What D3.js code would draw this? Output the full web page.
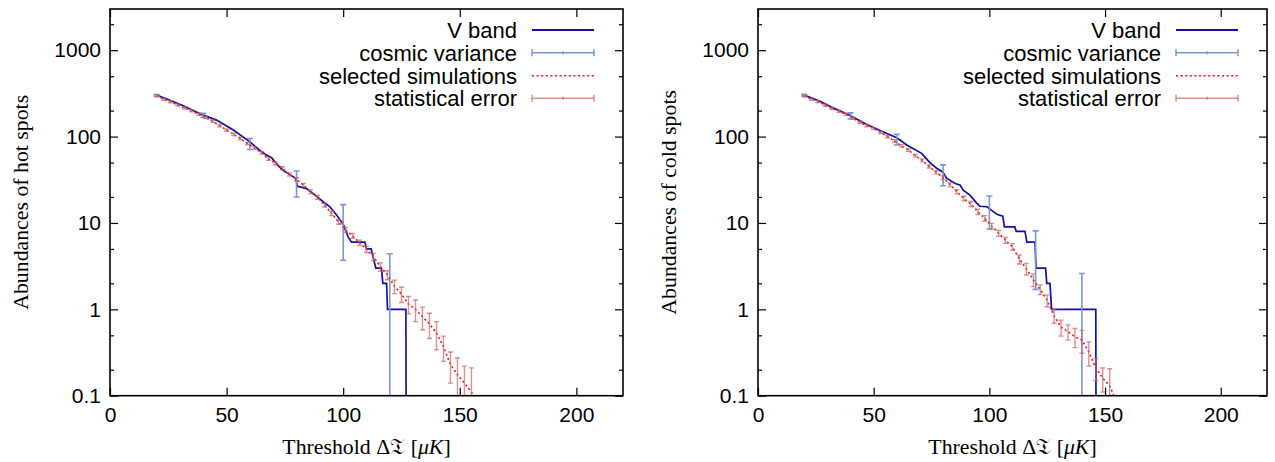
<!DOCTYPE html>
<html>
<head>
<meta charset="utf-8">
<script src="https://cdn.jsdelivr.net/npm/d3@7"></script>
<style>
  body { margin: 0; background: #fff; }
  svg { display: block; }
  .tick text { font-family: "Liberation Sans", Arial, sans-serif; font-size: 21px; fill: #000; }
  .legend text { font-family: "Liberation Sans", Arial, sans-serif; font-size: 22px; fill: #000; }
  .title { font-family: "Liberation Serif", "Times New Roman", serif; font-size: 21.8px; fill: #000; }
</style>
</head>
<body>
<svg id="chart" width="1275" height="462"></svg>
<script>
// ---- data ----
const xTicks = [0, 50, 100, 150, 200];
const yTicks = [0.1, 1, 10, 100, 1000];
const yTickLabels = ["0.1", "1", "10", "100", "1000"];
const yMinorTicks = [0.2, 0.5, 2, 5, 20, 50, 200, 500, 2000];
const legendLabels = ["V band", "cosmic variance", "selected simulations", "statistical error"];

// V band (WMAP) hot spot counts, breakpoints of the curve
const hotVX = [20, 26, 31.4, 40, 45.7, 52.9, 60, 64, 67.1, 69.3, 71, 74, 76, 79.6, 80.4, 84.3, 88, 91.4, 94.3, 97, 100, 102.1, 103.6, 109.3, 110, 112, 114, 116.4, 117, 118.6, 119, 126.9, 127];
const hotV  = [302, 262, 228, 177, 155, 119, 87, 70, 61, 57, 50, 41, 38, 33, 26.5, 25, 21, 17.6, 15.4, 12.5, 9.7, 6.9, 6, 6, 5, 5, 3, 3, 2, 2, 1, 1, 0];
// V band cold spot counts
const coldVX = [20, 26.8, 33, 40, 47, 54.2, 60, 64.3, 70.7, 74.3, 77.2, 79.8, 81.5, 85.2, 87.3, 88.7, 91.6, 94.5, 96, 99, 101, 103.5, 105.8, 106.5, 111, 111.6, 115.4, 116.2, 119.7, 120.2, 124.3, 124.8, 126.2, 126.9, 146, 146.1];
const coldV  = [302, 256, 212, 174, 138, 113, 97, 80, 64, 50, 43, 39, 33, 28.6, 27.5, 24, 21, 17, 15.6, 15.4, 14, 12.5, 12, 9, 9, 8, 8, 6, 6, 3, 3, 2, 2, 1, 1, 0];

// cosmic variance error bars
const hotCvX = [20, 40, 60, 80, 100, 120];
const hotCv = [300, 176, 83, 30, 10, 1];
const hotCvErr = [7, 9.5, 12, 10, 6.3, 3.4];
const coldCvX = [20, 40, 60, 80, 100, 120, 140];
const coldCv = [302, 174, 93, 37, 14.5, 4.9, 1];
const coldCvErr = [7, 14, 13, 10, 6, 3.2, 1.6];

// selected simulations (mean) and statistical error
const simX = [20, 23, 26, 29, 32, 35, 38, 41, 44, 47, 50, 53, 56, 59, 62, 65, 68, 71, 74, 77, 80, 83, 86, 89, 92, 95, 98, 101, 104, 107, 110, 113, 116, 119, 122, 125, 128, 131, 134, 137, 140, 143, 146, 149, 152, 155, 158];
const hotSim = [296, 271, 253, 232, 215, 199, 181, 166, 151, 134, 119, 106, 95, 83, 74, 65, 55, 49, 43, 36.5, 32, 27.4, 23, 19.8, 16.1, 12.9, 10.3, 8.3, 7.1, 5.9, 4.95, 4.06, 3.1, 2.5, 1.85, 1.5, 1.15, 1.0, 0.82, 0.68, 0.53, 0.37, 0.23, 0.175, 0.14, 0.11, 0.08];
const hotSimErr = [8, 7.5, 7, 6.5, 6, 5.5, 5, 4.8, 4.4, 4, 3.6, 3.3, 3, 2.7, 2.5, 2.3, 2, 1.9, 1.7, 1.5, 1.4, 1.25, 1.1, 1.0, 0.85, 0.75, 0.65, 0.56, 0.45, 0.42, 0.4, 0.38, 0.35, 0.3, 0.33, 0.3, 0.26, 0.28, 0.24, 0.22, 0.19, 0.12, 0.09, 0.1, 0.08, 0.1, 0.01];
const coldSim = [295, 271, 254, 231, 211, 197, 181, 163, 146, 134, 124, 112, 100, 89, 78, 70, 60, 53, 45, 38.5, 33.5, 27.8, 23, 19.2, 16.6, 13.5, 11.3, 9.2, 7.6, 6.3, 5.3, 3.8, 2.95, 2.2, 1.7, 1.27, 0.84, 0.62, 0.55, 0.48, 0.44, 0.32, 0.21, 0.16, 0.13, 0.085, 0.06];
const coldSimErr = [8, 7.5, 7, 6.5, 6, 5.5, 5, 4.6, 4.2, 4, 3.7, 3.4, 3.1, 2.8, 2.6, 2.4, 2.1, 2, 1.8, 1.7, 1.6, 1.4, 1.3, 1.2, 1.1, 0.95, 0.85, 0.7, 0.6, 0.5, 0.47, 0.45, 0.45, 0.37, 0.22, 0.2, 0.15, 0.13, 0.11, 0.12, 0.13, 0.1, 0.06, 0.05, 0.075, 0.01, 0.01];

// ---- layout / style ----
const plotTop = 9;
const plotBottom = 395.7;
const colV = "#1010a4";
const colCv = "#7898d8";
const colSim = "#e41818";
const colStat = "rgb(205,100,100)";

const svg = d3.select("#chart");

function drawPanel(p) {
  const x = d3.scaleLinear().domain([0, 220]).range([p.left, p.right]);
  const y = d3.scaleLog().domain([0.1, 3000]).range([plotBottom, plotTop]);
  // zero or negative counts fall below the frame and get clipped
  const yv = v => v > 0 ? y(v) : plotBottom + 30;

  const clipId = "clip-" + p.id;
  svg.append("clipPath").attr("id", clipId)
    .append("rect")
    .attr("x", p.left).attr("y", plotTop)
    .attr("width", p.right - p.left).attr("height", plotBottom - plotTop);

  const g = svg.append("g");
  const plot = g.append("g").attr("clip-path", `url(#${clipId})`);

  // V band curve
  const vData = p.vX.map((t, i) => [t, p.v[i]]);
  plot.append("path")
    .datum(vData)
    .attr("fill", "none")
    .attr("stroke", colV)
    .attr("stroke-width", 1.7)
    .attr("d", d3.line().x(d => x(d[0])).y(d => yv(d[1])));

  // cosmic variance bars
  const cvData = p.cvX.map((t, i) => ({ t, m: p.cv[i], e: p.cvErr[i] }));
  const cv = plot.append("g").attr("stroke", colCv).attr("stroke-width", 1.6);
  cv.selectAll("line.bar").data(cvData).join("line").attr("class", "bar")
    .attr("x1", d => x(d.t)).attr("x2", d => x(d.t))
    .attr("y1", d => yv(d.m - d.e)).attr("y2", d => yv(d.m + d.e));
  cv.selectAll("line.capHi").data(cvData).join("line").attr("class", "capHi")
    .attr("x1", d => x(d.t) - 3).attr("x2", d => x(d.t) + 3)
    .attr("y1", d => yv(d.m + d.e)).attr("y2", d => yv(d.m + d.e));
  cv.selectAll("line.capLo").data(cvData).join("line").attr("class", "capLo")
    .attr("x1", d => x(d.t) - 3).attr("x2", d => x(d.t) + 3)
    .attr("y1", d => yv(d.m - d.e)).attr("y2", d => yv(d.m - d.e));

  // selected simulations
  const simData = simX.map((t, i) => ({ t, m: p.sim[i], e: p.simErr[i] }));
  plot.append("path")
    .datum(simData)
    .attr("fill", "none")
    .attr("stroke", colSim)
    .attr("stroke-width", 1.6)
    .attr("stroke-dasharray", "2,2.6")
    .attr("d", d3.line().x(d => x(d.t)).y(d => yv(d.m)));

  // statistical error bars
  const st = plot.append("g").attr("stroke", colStat).attr("stroke-width", 1.4).attr("stroke-opacity", 0.7);
  st.selectAll("line.bar").data(simData).join("line").attr("class", "bar")
    .attr("x1", d => x(d.t)).attr("x2", d => x(d.t))
    .attr("y1", d => yv(d.m - d.e)).attr("y2", d => yv(d.m + d.e));
  st.selectAll("line.capHi").data(simData).join("line").attr("class", "capHi")
    .attr("x1", d => x(d.t) - 2.5).attr("x2", d => x(d.t) + 2.5)
    .attr("y1", d => yv(d.m + d.e)).attr("y2", d => yv(d.m + d.e));
  st.selectAll("line.capLo").data(simData).join("line").attr("class", "capLo")
    .attr("x1", d => x(d.t) - 2.5).attr("x2", d => x(d.t) + 2.5)
    .attr("y1", d => yv(d.m - d.e)).attr("y2", d => yv(d.m - d.e));

  // axes, ticks pointing inward on all four sides
  g.append("g").attr("transform", `translate(0,${plotBottom})`)
    .call(d3.axisBottom(x).tickValues(xTicks).tickFormat(d3.format("d")).tickSizeInner(-8).tickSizeOuter(0).tickPadding(11.5));
  g.append("g").attr("transform", `translate(0,${plotTop})`)
    .call(d3.axisTop(x).tickValues(xTicks).tickFormat("").tickSizeInner(-8).tickSizeOuter(0));
  g.append("g").attr("transform", `translate(${p.left},0)`)
    .call(d3.axisLeft(y).tickValues(yTicks).tickFormat((d, i) => yTickLabels[i]).tickSizeInner(-8).tickSizeOuter(0).tickPadding(9));
  g.append("g").attr("transform", `translate(${p.left},0)`)
    .call(d3.axisLeft(y).tickValues(yMinorTicks).tickFormat("").tickSizeInner(-4).tickSizeOuter(0));
  g.append("g").attr("transform", `translate(${p.right},0)`)
    .call(d3.axisRight(y).tickValues(yTicks).tickFormat("").tickSizeInner(-8).tickSizeOuter(0));
  g.append("g").attr("transform", `translate(${p.right},0)`)
    .call(d3.axisRight(y).tickValues(yMinorTicks).tickFormat("").tickSizeInner(-4).tickSizeOuter(0));
  g.selectAll(".domain").remove();
  g.selectAll(".tick line").attr("stroke", "#000").attr("stroke-width", 1.2);

  g.append("rect")
    .attr("x", p.left).attr("y", plotTop)
    .attr("width", p.right - p.left).attr("height", plotBottom - plotTop)
    .attr("fill", "none").attr("stroke", "#000").attr("stroke-width", 1.6);

  // legend
  const leg = g.append("g").attr("class", "legend");
  const rowY = [21, 43.7, 66.7, 89.3].map(o => plotTop + o);
  const tx = p.right - 106, lx1 = p.right - 91, lx2 = p.right - 29;
  legendLabels.forEach((lab, i) => {
    leg.append("text").attr("x", tx).attr("y", rowY[i]).attr("dy", "0.36em")
      .attr("text-anchor", "end").text(lab);
  });
  leg.append("line").attr("x1", lx1).attr("x2", lx2).attr("y1", rowY[0]).attr("y2", rowY[0])
    .attr("stroke", colV).attr("stroke-width", 1.8);
  [[1, colCv, 1], [3, colStat, 0.7]].forEach(([i, c, op]) => {
    const r = leg.append("g").attr("stroke", c).attr("stroke-width", 1.5).attr("stroke-opacity", op);
    r.append("line").attr("x1", lx1).attr("x2", lx2).attr("y1", rowY[i]).attr("y2", rowY[i]);
    [lx1, lx2].forEach(xx => r.append("line").attr("x1", xx).attr("x2", xx).attr("y1", rowY[i] - 3.5).attr("y2", rowY[i] + 3.5));
    r.append("line").attr("x1", (lx1 + lx2) / 2).attr("x2", (lx1 + lx2) / 2).attr("y1", rowY[i] - 1.5).attr("y2", rowY[i] + 1.5);
  });
  leg.append("line").attr("x1", lx1).attr("x2", lx2).attr("y1", rowY[2]).attr("y2", rowY[2])
    .attr("stroke", colSim).attr("stroke-width", 1.5).attr("stroke-dasharray", "2,2.6");

  // axis titles
  const xt = g.append("text").attr("class", "title")
    .attr("x", (p.left + p.right) / 2).attr("y", 454).attr("text-anchor", "middle");
  xt.append("tspan").text("Threshold \u0394");
  xt.append("tspan").text("\u{1D517}");
  xt.append("tspan").text(" [");
  xt.append("tspan").attr("font-style", "italic").text("\u03BCK");
  xt.append("tspan").text("]");

  g.append("text").attr("class", "title")
    .attr("transform", `translate(${p.left - 89.5},${(plotTop + plotBottom) / 2}) rotate(-90)`)
    .attr("dy", "0.35em")
    .attr("text-anchor", "middle")
    .text(p.yTitle);
}

drawPanel({ id: "hot", left: 110, right: 623, vX: hotVX, v: hotV, cvX: hotCvX, cv: hotCv, cvErr: hotCvErr,
  sim: hotSim, simErr: hotSimErr, yTitle: "Abundances of hot spots" });
drawPanel({ id: "cold", left: 758, right: 1267, vX: coldVX, v: coldV, cvX: coldCvX, cv: coldCv, cvErr: coldCvErr,
  sim: coldSim, simErr: coldSimErr, yTitle: "Abundances of cold spots" });
</script>
</body>
</html>
